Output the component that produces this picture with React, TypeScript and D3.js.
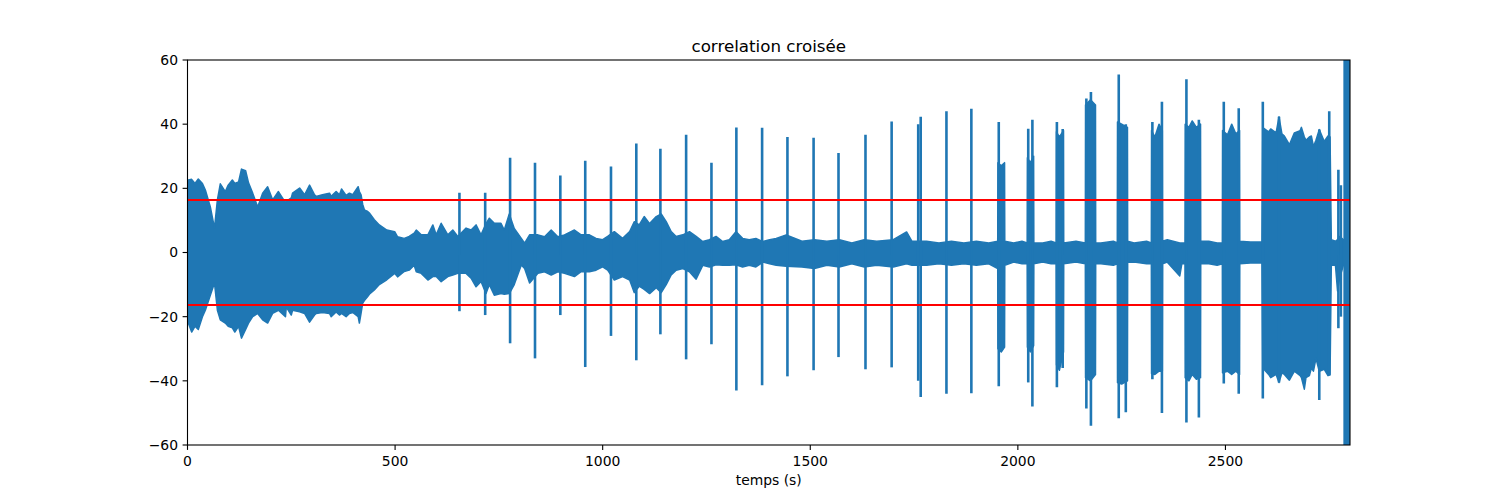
import * as d3 from "d3";

// background envelope of the signal (time in s, upper / lower amplitude), bursts included
const noiseT = [
  0, 2, 10, 18, 26, 36, 43, 55, 65, 72,
  79, 91, 98, 108, 114, 123, 130, 140, 147, 157,
  169, 181, 193, 205, 219, 236, 238, 250, 253, 270,
  282, 294, 306, 310, 325, 342, 346, 358, 366, 371,
  382, 390, 398, 411, 414, 418, 422, 426, 434, 438,
  450, 462, 480, 499, 506, 522, 534, 546, 551, 563,
  579, 591, 599, 611, 627, 639, 651, 671, 683, 695,
  707, 719, 727, 739, 755, 763, 775, 787, 804, 812,
  824, 844, 860, 876, 892, 908, 932, 948, 968, 984,
  1000, 1012, 1028, 1048, 1065, 1076, 1088, 1100, 1113, 1129,
  1141, 1153, 1165, 1177, 1193, 1209, 1225, 1241, 1257, 1273,
  1289, 1305, 1321, 1337, 1353, 1369, 1386, 1402, 1418, 1442,
  1480, 1510, 1540, 1570, 1600, 1630, 1660, 1700, 1732, 1745,
  1780, 1810, 1840, 1870, 1900, 1930, 1951.5, 1952, 1960, 1968,
  1968.5, 1990, 2010, 2022.5, 2023, 2030, 2038, 2038.5, 2060, 2080,
  2092.5, 2093, 2100, 2110, 2110.5, 2140, 2162.5, 2163, 2175, 2187,
  2187.5, 2200, 2230, 2239.5, 2240, 2250, 2264, 2264.5, 2280, 2310,
  2321.5, 2322, 2330, 2340, 2348, 2348.5, 2360, 2390, 2395, 2402.5,
  2403, 2412, 2420, 2430, 2440, 2440.5, 2460, 2480, 2492.5, 2493,
  2505, 2515, 2525, 2534, 2534.5, 2560, 2588, 2590, 2604, 2609,
  2622, 2629, 2636, 2642, 2654, 2666, 2680, 2683, 2690, 2694,
  2702, 2707, 2712, 2718, 2726, 2738, 2747, 2752, 2755, 2765,
  2770, 2775, 2784,
];
const noiseHi = [
  21, 22.6, 22.8, 21.5, 22.9, 21.5, 19.5, 14.2, 7.6, 16.4,
  21.4, 19, 21, 22.6, 21.5, 22, 26, 25.5, 21.7, 18.5,
  14.2, 18.5, 20.5, 16.4, 19, 15.5, 15.9, 17, 18.5, 20.1,
  18, 21, 18, 17.5, 18, 18.5, 17.5, 19, 18, 19.8,
  17.8, 18.5, 18, 20.5, 19, 18, 15, 13.3, 12.8, 12.3,
  10.2, 8.6, 7, 6.5, 4.9, 4.4, 5, 6, 7, 5.5,
  5.5, 8.6, 5.5, 9.1, 5.5, 7, 5, 7.6, 7, 8.6,
  5.5, 9, 10.7, 9.1, 9.1, 7, 12, 7.5, 4.4, 2.9,
  5.5, 5.5, 4.9, 7, 4.9, 5.5, 7, 5.5, 5.5, 4.4,
  4, 5, 6.5, 4.4, 6.5, 9.6, 8.6, 11.2, 9, 11.2,
  12, 9.6, 6.5, 5, 5.5, 6.5, 5, 3.4, 4, 5,
  3.4, 4, 6.5, 4.4, 4, 4.4, 3.4, 4, 4.4, 5.5,
  3.5, 4, 3.5, 4, 3, 4, 3.5, 4, 6.4, 3.5,
  3.5, 3, 3.5, 3, 3.5, 3, 3.5, 28, 27, 28,
  3.5, 3, 3.5, 3, 29.5, 28, 30, 3, 3, 3.5,
  3, 37.6, 36, 38, 3, 3.5, 3, 46, 47.6, 46,
  3, 3, 3.5, 3, 40.7, 40, 39, 3.5, 3, 3.5,
  3, 38, 36, 40, 38, 3.5, 4, 3, 3, 3,
  40, 39, 41, 39, 40, 3.5, 3.5, 3, 3, 38,
  36.7, 40, 37, 38, 3.5, 3.3, 3.3, 38.9, 37.6, 38.5,
  37.3, 42.3, 37, 36.3, 33.6, 37.3, 38, 39, 36, 35,
  36, 36.3, 33, 35, 38.3, 34.6, 36.3, 36, 4, 3.5,
  4, 5, 4,
];
const noiseLo = [
  -21, -22, -24.8, -23, -24, -20, -18, -13.3, -9.5, -18,
  -21, -22, -23, -23.5, -24.8, -23, -26.7, -24, -22, -20,
  -19, -21, -22, -19, -18, -20, -17, -19.5, -18, -18.5,
  -19, -21.7, -19.5, -19, -18.7, -19, -20, -18.5, -19.5, -19,
  -20, -19, -18.7, -20, -22, -19, -15.8, -15, -13.7, -13,
  -11.7, -10, -8.5, -6.5, -7.6, -5.9, -5.5, -4, -6, -6.5,
  -8.6, -7.5, -7.5, -9.1, -7.5, -7, -6.5, -6.5, -8, -10.7,
  -9, -12.8, -10, -13.3, -12.8, -13, -12.8, -10, -3.9, -5,
  -9.5, -6.5, -6, -7, -6, -6.5, -7.5, -6, -6, -5.5,
  -4.5, -5.5, -8.6, -7.5, -8.6, -12.5, -10.5, -11.5, -12.8, -11,
  -12.5, -10, -7, -5.5, -5, -6, -8.3, -4, -4.5, -3.8,
  -4, -4, -3.8, -4.5, -4, -4.5, -3, -3.5, -4, -4.3,
  -4.5, -5, -4, -4.5, -3.5, -4.5, -4, -4.5, -3.5, -4,
  -4, -3.5, -4, -3.5, -4, -3.5, -5, -30, -31, -29.5,
  -4, -3, -3.5, -3.5, -29.5, -31, -29, -3.5, -3, -3.5,
  -3.5, -35, -36.7, -31, -3.5, -3, -3.5, -39, -40, -38,
  -3.5, -3.5, -4, -3.5, -40.5, -41, -40, -3, -3, -3.5,
  -3.5, -37.7, -38, -37, -37, -3.5, -3, -7.3, -3.5, -3.5,
  -39, -40, -38, -39.5, -39, -3.5, -3.5, -4, -3.5, -37.5,
  -37, -38, -37, -38, -3.5, -3.3, -3.3, -36, -38, -39,
  -38, -40.5, -37.5, -38, -39.8, -37, -38.4, -39, -42.6, -39,
  -38.4, -36, -37, -33, -37, -36.4, -38.4, -38, -4, -4,
  -12, -8, -4,
];

// isolated peaks
const spikeT = [
  655, 717, 777, 837, 898, 958, 1020, 1081, 1139, 1201, 1262, 1322, 1384, 1445, 1508, 1568, 1633, 1696, 1760, 1766,
  1828, 1888, 1954, 2025, 2035, 2094, 2108, 2165, 2176, 2243, 2260, 2324, 2347, 2406, 2436, 2496, 2532, 2590, 2629, 2726,
  2750, 2772, 2778,
];
const spikeHi = [
  18.6, 18.6, 29.5, 28, 24, 28.6, 26.8, 34, 32.3, 36.7, 28, 39, 38.9, 36, 35.8, 31, 36.7, 40.8, 40, 42.3,
  44, 44.8, 40.7, 38.6, 41.4, 40.7, 38.5, 48, 50, 55.5, 40, 40.7, 47, 54, 41.4, 47, 45, 47, 42.3, 38.3,
  44, 25.8, 21,
];
const spikeLo = [
  -18.3, -19.5, -28.3, -33, -19.5, -35.7, -26, -33.6, -25.5, -33.3, -28.6, -43, -41.4, -38.6, -36.7, -32.6, -36.4, -35.8, -40, -45,
  -44, -43.9, -41.7, -40.5, -48, -42, -36, -48.6, -54, -51.7, -49.8, -39.5, -50, -53, -51.4, -40.8, -44, -45.5, -40.5, -46,
  -38.4, -23.6, -20,
];

// saturated segment at the very end
const burstStart = [2784];
const burstEnd = [2800];
const burstHi = [80];
const burstLo = [-80];

const threshold = 16.4;
const xTicks = [0, 500, 1000, 1500, 2000, 2500];
const yTicks = [-60, -40, -20, 0, 20, 40, 60];
const title = "correlation croisée";
const xLabel = "temps (s)";

const W = 1500;
const H = 500;
const left = 187.5;
const right = 1350;
const top = 60;
const bottom = 445;
const blue = "#1f77b4";
const font = "DejaVu Sans, sans-serif";

export default function App() {
  const x = d3.scaleLinear().domain([0, 2800]).range([left, right]);
  const y = d3.scaleLinear().domain([-60, 60]).range([bottom, top]);

  const noise = noiseT.map((t, i) => ({ t, hi: noiseHi[i], lo: noiseLo[i] }));
  const area = d3
    .area<{ t: number; hi: number; lo: number }>()
    .x((d) => x(d.t))
    .y0((d) => y(d.lo))
    .y1((d) => y(d.hi));

  return (
    <svg
      width={W}
      height={H}
      style={{ position: "absolute", left: 0, top: 0, background: "#fff" }}
      fontFamily={font}
    >
      <defs>
        <clipPath id="plot">
          <rect x={left} y={top} width={right - left} height={bottom - top} />
        </clipPath>
      </defs>
      <g clipPath="url(#plot)">
        <path d={area(noise) ?? ""} fill={blue} stroke={blue} strokeWidth={1.5} strokeLinejoin="round" />
        {burstStart.map((s, i) => (
          <rect
            key={"b" + i}
            x={x(s)}
            y={y(burstHi[i])}
            width={x(burstEnd[i]) - x(s)}
            height={y(burstLo[i]) - y(burstHi[i])}
            fill={blue}
          />
        ))}
        {spikeT.map((t, i) => (
          <line
            key={"s" + i}
            x1={x(t)}
            x2={x(t)}
            y1={y(spikeHi[i])}
            y2={y(spikeLo[i])}
            stroke={blue}
            strokeWidth={2.6}
          />
        ))}
        {[threshold, -threshold].map((v) => (
          <line key={v} x1={left} x2={right} y1={y(v)} y2={y(v)} stroke="red" strokeWidth={2} />
        ))}
      </g>
      <rect x={left} y={top} width={right - left} height={bottom - top} fill="none" stroke="#000" strokeWidth={1.1} />
      {xTicks.map((t) => (
        <g key={"x" + t} transform={`translate(${x(t)},${bottom})`}>
          <line y2={4.9} stroke="#000" strokeWidth={1.1} />
          <text y={21} textAnchor="middle" fontSize={13.9} fill="#000">
            {t}
          </text>
        </g>
      ))}
      {yTicks.map((t) => (
        <g key={"y" + t} transform={`translate(${left},${y(t)})`}>
          <line x2={-4.9} stroke="#000" strokeWidth={1.1} />
          <text x={-9.5} dy="0.35em" textAnchor="end" fontSize={13.9} fill="#000">
            {t < 0 ? "\u2212" + Math.abs(t) : t}
          </text>
        </g>
      ))}
      <text x={(left + right) / 2} y={52} textAnchor="middle" fontSize={16.7} fill="#000">
        {title}
      </text>
      <text x={(left + right) / 2} y={485} textAnchor="middle" fontSize={13.9} fill="#000">
        {xLabel}
      </text>
    </svg>
  );
}
